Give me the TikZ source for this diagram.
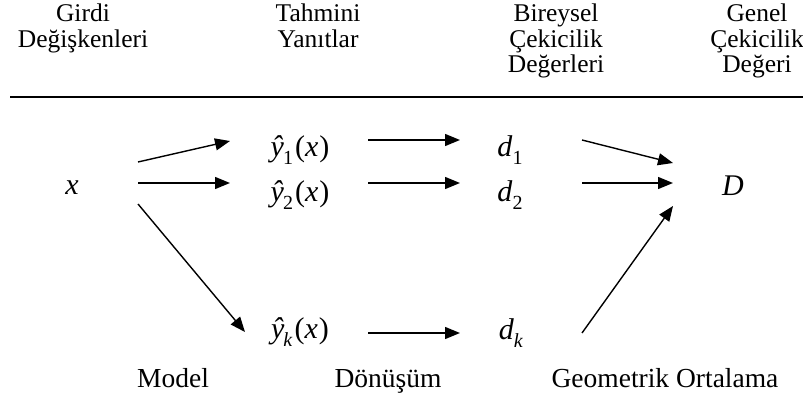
\documentclass[tikz,border=0pt]{standalone}
\usepackage{fontspec}
\setmainfont{Liberation Serif}
\usetikzlibrary{arrows.meta}
\newcommand{\yhat}[1]{\textit{ŷ}\kern-1pt\raisebox{-0.28em}{\fontsize{20}{20}\selectfont #1}\kern2pt(\textit{x}\kern1pt)}
\newcommand{\dsub}[1]{\textit{d}\raisebox{-0.28em}{\fontsize{20}{20}\selectfont #1}}
\begin{document}
\begin{tikzpicture}[x=1pt,y=-1pt,
  hdr/.style={anchor=north,align=center,inner sep=0pt,font=\fontsize{25.5}{25.5}\selectfont},
  lbl/.style={anchor=base,inner sep=0pt,font=\fontsize{27.5}{28}\selectfont},
  mth/.style={inner sep=0pt,font=\fontsize{30}{30}\selectfont},
  arr/.style={line width=1.4pt,-{Triangle[length=15pt,width=12pt]}}]
\useasboundingbox (0,0) rectangle (803,398);
% headers
\node[hdr] (h1) at (83,4) {Girdi\\Değişkenleri};
\node[hdr] (h2) at (318,4) {Tahmini\\Yanıtlar};
\node[hdr] (h3) at (556,4) {Bireysel\\Çekicilik\\Değerleri};
\node[hdr] (h4) at (757,4) {Genel\\Çekicilik\\Değeri};
\draw[line width=1.3pt] (10,97) coordinate (r1) -- (803,97) coordinate (r2);
% math nodes
\node[mth] (x) at (72,188) {\textit{x}};
\node[mth] (y1) at (300,150) {\yhat{1}};
\node[mth] (y2) at (300,195) {\yhat{2}};
\node[mth] (yk) at (300,332) {\yhat{\textit{k}}};
\node[mth] (d1) at (510,150) {\dsub{1}};
\node[mth] (d2) at (510,195) {\dsub{2}};
\node[mth] (dk) at (511,333) {\dsub{\textit{k}}};
\node[mth] (D) at (733,186) {\textit{D}};
% bottom labels
\node[lbl] (m) at (173,387) {Model};
\node[lbl] (t) at (388,387) {Dönüşüm};
\node[lbl] (g) at (665,387) {Geometrik Ortalama};
% connector endpoints
\coordinate (xa) at (138,162); \coordinate (ya) at (230,141);
\coordinate (xb) at (138,183); \coordinate (yb) at (230,183);
\coordinate (xc) at (138,204); \coordinate (yc) at (245,332);
\coordinate (y1o) at (368,140); \coordinate (d1i) at (460,140);
\coordinate (y2o) at (368,183); \coordinate (d2i) at (460,183);
\coordinate (yko) at (368,333); \coordinate (dki) at (460,333);
\coordinate (d1o) at (582,140); \coordinate (Da) at (673,163);
\coordinate (d2o) at (582,183); \coordinate (Db) at (673,183);
\coordinate (dko) at (582,333); \coordinate (Dc) at (673,206);
\draw[arr] (xa) -- (ya);
\draw[arr] (xb) -- (yb);
\draw[arr] (xc) -- (yc);
\draw[arr] (y1o) -- (d1i);
\draw[arr] (y2o) -- (d2i);
\draw[arr] (yko) -- (dki);
\draw[arr] (d1o) -- (Da);
\draw[arr] (d2o) -- (Db);
\draw[arr] (dko) -- (Dc);
\end{tikzpicture}
\end{document}
